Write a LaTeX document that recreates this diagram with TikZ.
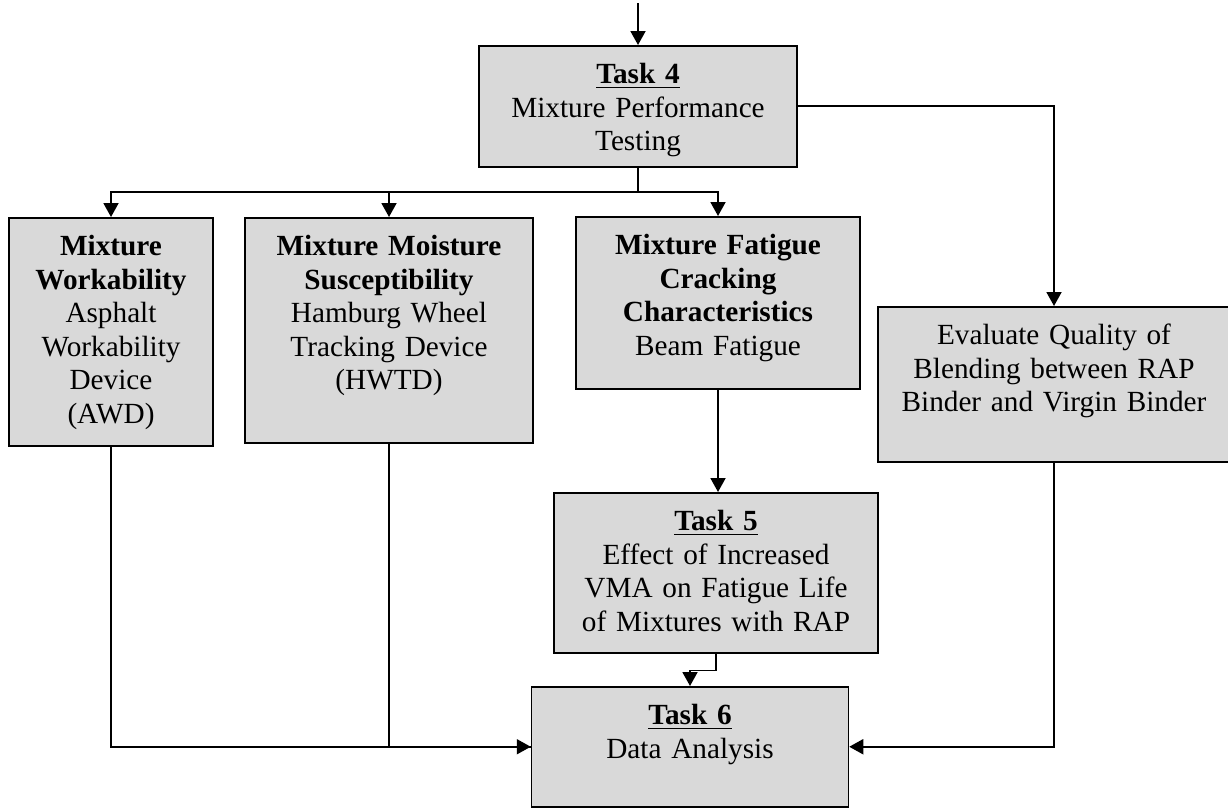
\documentclass[tikz,border=0pt]{standalone}
\usepackage{fontspec}
\setmainfont{Liberation Serif}
\usetikzlibrary{arrows.meta}
\definecolor{boxgray}{RGB}{217,217,217}

\begin{document}
\begin{tikzpicture}[x=0.4pt, y=-0.4pt,
		task/.style={draw, line width=0.6pt, fill=boxgray, anchor=north, align=center,
			inner sep=0pt, text height=15.2pt, font=\fontsize{11.7}{13.4}\selectfont},
		arr/.style={line width=0.75pt, -{Triangle[width=6pt,length=5.6pt]}},
		link/.style={line width=0.75pt}]
	\useasboundingbox (0,0) rectangle (1228,808);
	% Task 4 (top)
	\node[task, text width=127.2pt, text depth=33.2pt] (t4) at (638,45)
		{\underline{\textbf{Task 4}}\\ Mixture Performance\\ Testing};
	% --- performance tests ---
	\node[task, text width=81.6pt, text depth=76pt] (work) at (111,217)
		{\textbf{Mixture}\\ \textbf{Workability}\\ Asphalt\\ Workability\\ Device\\ (AWD)};
	\node[task, text width=115.2pt, text depth=74.8pt] (moist) at (389,217)
		{\textbf{Mixture Moisture}\\ \textbf{Susceptibility}\\ Hamburg Wheel\\ Tracking Device\\ (HWTD)};
	\node[task, text width=113.6pt, text depth=53.6pt] (fatig) at (718,216)
		{\textbf{Mixture Fatigue}\\ \textbf{Cracking}\\ \textbf{Characteristics}\\ Beam Fatigue};
	\node[task, text width=140.8pt, text depth=46.8pt] (blend) at (1054,306)
		{Evaluate Quality of\\ Blending between RAP\\ Binder and Virgin Binder};
	% Tasks 5 and 6
	\node[task, text width=129.6pt, text depth=48.8pt] (t5) at (716,492)
		{\underline{\textbf{Task 5}}\\ Effect of Increased\\ VMA on Fatigue Life\\ of Mixtures with RAP};
	\node[task, text width=126.8pt, text depth=32.8pt] (t6) at (690,686)
		{\underline{\textbf{Task 6}}\\ Data Analysis};
	% connectors
	\coordinate (start) at (638,3);
	\coordinate (split) at (638,192);
	\draw[arr] (start) -- (t4.north);
	\draw[link] (t4.south) -- (split);
	\draw[arr] (split) -| (work.north);
	\draw[arr] (split) -| (moist.north);
	\draw[arr] (split) -| (fatig.north);
	\draw[arr] (t4.east) -| (blend.north);
	\draw[arr] (fatig.south) -- (fatig.south |- t5.north);
	\draw[arr] (t5.south) -- ++(0,17) -| (t6.north);
	\draw[link] (moist.south) |- (t6.west);
	\draw[arr] (work.south) |- (t6.west);
	\draw[arr] (blend.south) |- (t6.east);
\end{tikzpicture}
\end{document}
